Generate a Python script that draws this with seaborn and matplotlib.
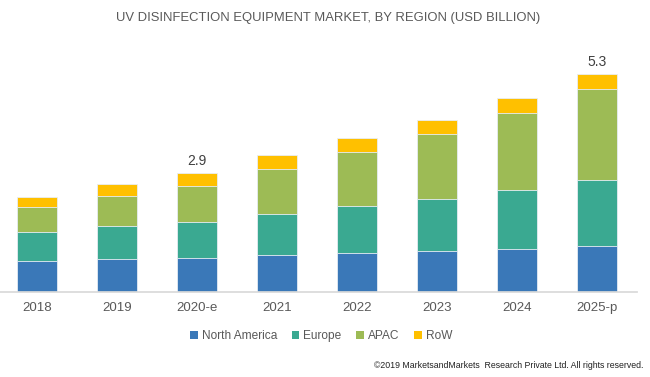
import numpy as np
import pandas as pd
import seaborn as sns
import matplotlib.pyplot as plt
from matplotlib.patches import Patch

years = ["2018", "2019", "2020-e", "2021", "2022", "2023", "2024", "2025-p"]
north_america = [0.76, 0.79, 0.82, 0.91, 0.95, 1.00, 1.04, 1.11]
europe = [0.70, 0.81, 0.87, 0.99, 1.13, 1.27, 1.44, 1.60]
apac = [0.61, 0.74, 0.89, 1.10, 1.31, 1.57, 1.87, 2.23]
row = [0.24, 0.28, 0.32, 0.34, 0.34, 0.34, 0.36, 0.36]
labelled = {"2020-e": "2.9", "2025-p": "5.3"}

regions = ["North America", "Europe", "APAC", "RoW"]
colors = ["#3a78b8", "#3aa991", "#9dbb55", "#ffc000"]


def main():
    sns.set_theme(style="white")
    plt.rcParams["font.family"] = ["Liberation Sans", "DejaVu Sans"]

    df = pd.DataFrame({"year": years, "North America": north_america,
                       "Europe": europe, "APAC": apac, "RoW": row})
    cum = df[regions].cumsum(axis=1)

    fig = plt.figure(figsize=(6.5, 3.77), dpi=100)
    ax = fig.add_axes([-0.005, 0.2255, 0.985, 0.655])

    # stacked look: draw cumulative totals from the top layer down
    for reg, col in reversed(list(zip(regions, colors))):
        sns.barplot(x=df["year"], y=cum[reg], color=col, width=0.5,
                    edgecolor="#e8eef5", linewidth=0.6, saturation=1, ax=ax)

    totals = cum["RoW"].values
    for i, y in enumerate(years):
        if y in labelled:
            ax.text(i, totals[i] + 0.12, labelled[y], ha="center", va="bottom",
                    fontsize=10, color="#404040")

    ax.set_ylim(0, 6.0)
    ax.set_xlim(-0.5, 7.5)
    ax.set_xlabel("")
    ax.set_ylabel("")
    ax.set_yticks([])
    for s in ["top", "right", "left"]:
        ax.spines[s].set_visible(False)
    ax.spines["bottom"].set_color("#d9d9d9")
    ax.tick_params(axis="x", length=0, pad=7, labelsize=9.5, labelcolor="#595959")
    ax.set_xticks(np.arange(-0.5, 8.0, 1.0), minor=True)
    ax.tick_params(axis="x", which="minor", length=4, color="#d9d9d9", direction="out")

    fig.text(0.505, 0.952, "UV DISINFECTION EQUIPMENT MARKET, BY REGION (USD BILLION)",
             ha="center", va="center", fontsize=9.4, color="#595959")

    handles = [Patch(facecolor=c, edgecolor="none") for c in colors]
    fig.legend(handles, regions, loc="center", bbox_to_anchor=(0.494, 0.108),
               ncol=4, frameon=False, fontsize=8.6, labelcolor="#595959",
               handlelength=0.65, handleheight=0.65, handletextpad=0.35,
               columnspacing=1.2)

    fig.text(0.99, 0.03, "\u00a92019 MarketsandMarkets  Research Private Ltd. All rights reserved.",
             ha="right", va="center", fontsize=6.3, color="#222222")

    fig.savefig("out.png", dpi=100)


if __name__ == "__main__":
    main()
